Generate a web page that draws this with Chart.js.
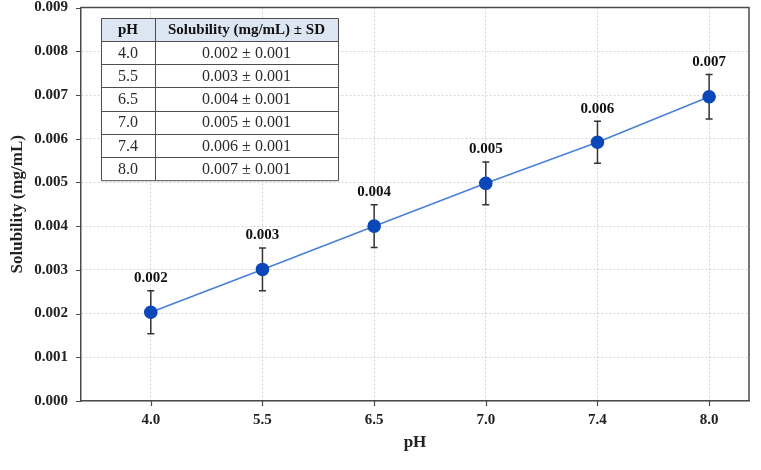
<!DOCTYPE html>
<html>
<head>
<meta charset="utf-8">
<script src="https://cdn.jsdelivr.net/npm/chart.js@4.4.1/dist/chart.umd.min.js"></script>
<style>
  html, body { margin: 0; padding: 0; background: #ffffff; }
  #wrap { width: 761px; height: 470px; position: relative; }
</style>
</head>
<body>
<div id="wrap"><canvas id="c" width="761" height="470"></canvas></div>
<script>
// ---- data ----
const phLabels = ['4.0', '5.5', '6.5', '7.0', '7.4', '8.0'];
const solubility = [0.00203, 0.00301, 0.00400, 0.00498, 0.00592, 0.00696];
const solubilitySD = [0.00049, 0.00049, 0.00049, 0.00049, 0.00048, 0.00051];
const pointLabels = ['0.002', '0.003', '0.004', '0.005', '0.006', '0.007'];
const tableMean = ['0.002', '0.003', '0.004', '0.005', '0.006', '0.007'];
const tableSD = ['0.001', '0.001', '0.001', '0.001', '0.001', '0.001'];
const tableHeader = ['pH', 'Solubility (mg/mL) \u00b1 SD'];
const yMin = 0, yMax = 0.009, yStep = 0.001;

const FONT = "'Liberation Serif', 'Times New Roman', serif";

const extrasPlugin = {
  id: 'extras',
  beforeDatasetsDraw(chart) {
    const {ctx, scales: {x, y}} = chart;
    ctx.save();
    ctx.strokeStyle = '#333333';
    ctx.lineWidth = 1.5;
    solubility.forEach((v, i) => {
      const px = x.getPixelForValue(i);
      const top = y.getPixelForValue(v + solubilitySD[i]);
      const bot = y.getPixelForValue(v - solubilitySD[i]);
      ctx.beginPath();
      ctx.moveTo(px, top); ctx.lineTo(px, bot);
      ctx.moveTo(px - 3.5, top); ctx.lineTo(px + 3.5, top);
      ctx.moveTo(px - 3.5, bot); ctx.lineTo(px + 3.5, bot);
      ctx.stroke();
    });
    ctx.restore();
  },
  afterDatasetsDraw(chart) {
    const {ctx, chartArea: a, scales: {x, y}} = chart;
    ctx.save();
    // frame (top & right)
    ctx.strokeStyle = '#4a4a4a';
    ctx.lineWidth = 1.5;
    ctx.beginPath();
    ctx.moveTo(a.left, a.top); ctx.lineTo(a.right, a.top); ctx.lineTo(a.right, a.bottom);
    ctx.stroke();
    // tick marks
    ctx.lineWidth = 1.2;
    ctx.strokeStyle = '#4a4a4a';
    ctx.beginPath();
    for (let v = yMin; v <= yMax + 1e-9; v += yStep) {
      const py = Math.round(y.getPixelForValue(v)) + 0.5;
      ctx.moveTo(a.left - 5, py); ctx.lineTo(a.left, py);
    }
    phLabels.forEach((_, i) => {
      const px = Math.round(x.getPixelForValue(i)) + 0.5;
      ctx.moveTo(px, a.bottom); ctx.lineTo(px, a.bottom + 5);
    });
    ctx.stroke();
    // value labels
    ctx.fillStyle = '#111';
    ctx.font = 'bold 15px ' + FONT;
    ctx.textAlign = 'center';
    ctx.textBaseline = 'bottom';
    solubility.forEach((v, i) => {
      const px = x.getPixelForValue(i);
      const top = y.getPixelForValue(v + solubilitySD[i]);
      ctx.fillText(pointLabels[i], px, top - 5);
    });
    // table
    const tL = 101, tR = 338, tT = 18, colX = 155, hH = 23, rH = 23.2;
    const tB = tT + hH + rH * phLabels.length;
    ctx.fillStyle = '#ffffff';
    ctx.fillRect(tL, tT, tR - tL, tB - tT);
    ctx.fillStyle = '#dce6f2';
    ctx.fillRect(tL, tT, tR - tL, hH);
    ctx.strokeStyle = '#4d4d4d';
    ctx.lineWidth = 1;
    ctx.beginPath();
    ctx.rect(tL + 0.5, tT + 0.5, tR - tL, tB - tT);
    ctx.moveTo(colX + 0.5, tT); ctx.lineTo(colX + 0.5, tB);
    for (let r = 0; r < phLabels.length; r++) {
      const ry = Math.round(tT + hH + rH * r) + 0.5;
      ctx.moveTo(tL, ry); ctx.lineTo(tR, ry);
    }
    ctx.stroke();
    ctx.textBaseline = 'middle';
    ctx.fillStyle = '#111';
    ctx.font = 'bold 15px ' + FONT;
    ctx.fillText(tableHeader[0], (tL + colX) / 2, tT + hH / 2 + 1);
    ctx.fillText(tableHeader[1], (colX + tR) / 2, tT + hH / 2 + 1);
    ctx.fillStyle = '#2a2a2a';
    ctx.font = '16px ' + FONT;
    phLabels.forEach((p, r) => {
      const cy = tT + hH + rH * r + rH / 2 + 1;
      ctx.fillText(p, (tL + colX) / 2, cy);
      ctx.fillText(tableMean[r] + ' \u00b1 ' + tableSD[r], (colX + tR) / 2, cy);
    });
    ctx.restore();
  }
};

new Chart(document.getElementById('c'), {
  type: 'line',
  data: {
    datasets: [{
      data: solubility.map((v, i) => ({x: i, y: v})),
      borderColor: '#4a80d6',
      borderWidth: 1.6,
      pointBackgroundColor: '#0a47b8',
      pointBorderColor: '#0a47b8',
      pointRadius: 6,
      pointHoverRadius: 6,
      tension: 0,
      fill: false,
      clip: false
    }]
  },
  options: {
    responsive: false,
    animation: false,
    devicePixelRatio: 1,
    layout: { padding: { left: 3, right: 12, top: 6, bottom: 13 } },
    plugins: { legend: { display: false }, tooltip: { enabled: false } },
    scales: {
      x: {
        type: 'linear',
        min: -0.625,
        max: 5.357,
        afterBuildTicks: (s) => { s.ticks = phLabels.map((_, i) => ({value: i})); },
        afterFit: (s) => { s.height = 56; s.paddingLeft = 0; s.paddingRight = 0; },
        ticks: {
          callback: (v) => phLabels[v] !== undefined ? phLabels[v] : '',
          font: { family: FONT, size: 15, weight: 'bold' },
          color: '#222',
          padding: 10,
          maxRotation: 0,
          autoSkip: false
        },
        grid: { color: '#d6d6d6', lineWidth: 1, drawTicks: false },
        border: { display: true, color: '#4a4a4a', width: 1.5, dash: [2, 2] },
        title: { display: true, text: 'pH', font: { family: FONT, size: 17, weight: 'bold' }, color: '#222' }
      },
      y: {
        min: yMin,
        max: yMax,
        afterFit: (s) => { s.width = 78; s.paddingTop = 0; s.paddingBottom = 0; },
        ticks: {
          stepSize: yStep,
          callback: (v) => v.toFixed(3),
          font: { family: FONT, size: 15, weight: 'bold' },
          color: '#222',
          padding: 13
        },
        grid: { color: '#d6d6d6', lineWidth: 1, drawTicks: false },
        border: { display: true, color: '#4a4a4a', width: 1.5, dash: [2, 2] },
        title: { display: true, text: 'Solubility (mg/mL)', font: { family: FONT, size: 17, weight: 'bold' }, color: '#222' }
      }
    }
  },
  plugins: [extrasPlugin]
});
</script>
</body>
</html>
